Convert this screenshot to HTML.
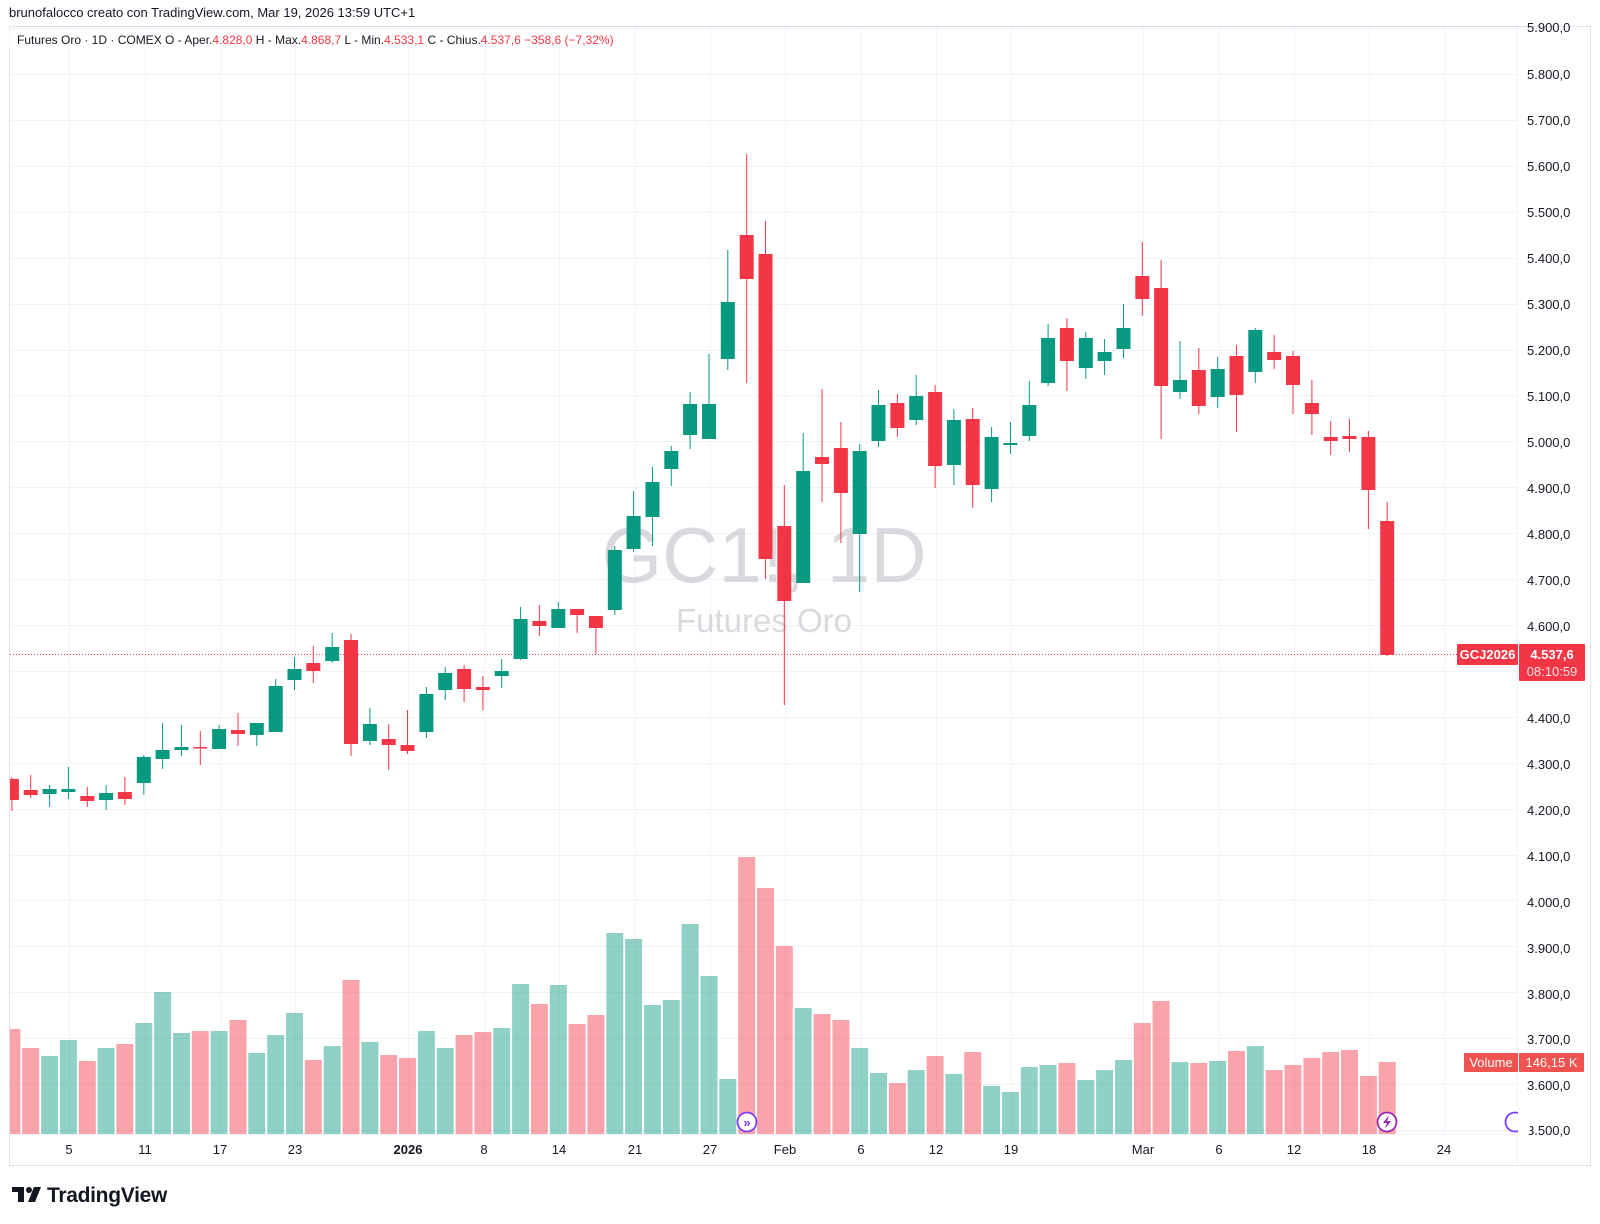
<!DOCTYPE html>
<html><head><meta charset="utf-8"><style>
html,body{margin:0;padding:0;background:#fff;}
body{width:1600px;height:1224px;overflow:hidden;position:relative;font-family:"Liberation Sans",sans-serif;}
</style></head><body>
<svg id="s" width="1600" height="1224" viewBox="0 0 1600 1224" xmlns="http://www.w3.org/2000/svg" style="position:absolute;left:0;top:0">
<rect x="0" y="0" width="1600" height="1224" fill="#fff"/>
<text x="9" y="17" font-size="13" fill="#131722">brunofalocco creato con TradingView.com, Mar 19, 2026 13:59 UTC+1</text>
<rect x="9.5" y="26.5" width="1581" height="1139" fill="none" stroke="#e0e3eb"/>
<g id="grid" stroke="#f0f3fa" stroke-width="1"></g>
<line x1="10" y1="1134.5" x2="1517" y2="1134.5" stroke="#f0f3fa"/>
<line x1="1517.5" y1="27" x2="1517.5" y2="1165" stroke="#f0f3fa"/>
<text x="764" y="582" font-size="78" fill="#b2b5be" fill-opacity="0.5" text-anchor="middle">GC1!, 1D</text>
<text x="764" y="632" font-size="33" fill="#b2b5be" fill-opacity="0.5" text-anchor="middle">Futures Oro</text>
<g id="vol"></g>
<line x1="10" y1="654.5" x2="1517" y2="654.5" stroke="#f23645" stroke-width="1" stroke-dasharray="1,2"/>
<g id="cand"></g>
<g font-size="13" fill="#131722">
<text x="1527" y="32">5.900,0</text>
<text x="1527" y="79">5.800,0</text>
<text x="1527" y="125">5.700,0</text>
<text x="1527" y="171">5.600,0</text>
<text x="1527" y="217">5.500,0</text>
<text x="1527" y="263">5.400,0</text>
<text x="1527" y="309">5.300,0</text>
<text x="1527" y="355">5.200,0</text>
<text x="1527" y="401">5.100,0</text>
<text x="1527" y="447">5.000,0</text>
<text x="1527" y="493">4.900,0</text>
<text x="1527" y="539">4.800,0</text>
<text x="1527" y="585">4.700,0</text>
<text x="1527" y="631">4.600,0</text>
<text x="1527" y="723">4.400,0</text>
<text x="1527" y="769">4.300,0</text>
<text x="1527" y="815">4.200,0</text>
<text x="1527" y="861">4.100,0</text>
<text x="1527" y="907">4.000,0</text>
<text x="1527" y="953">3.900,0</text>
<text x="1527" y="999">3.800,0</text>
<text x="1527" y="1044">3.700,0</text>
<text x="1527" y="1090">3.600,0</text>
<text x="1527" y="1135">3.500,0</text>
</g>
<rect x="1457" y="644" width="61" height="21" fill="#f23645" rx="1"/>
<text x="1487.5" y="659" font-size="13" fill="#fff" text-anchor="middle" font-weight="bold">GCJ2026</text>
<rect x="1519" y="644" width="66" height="37" fill="#f23645" rx="1"/>
<text x="1552" y="659" font-size="13" fill="#fff" text-anchor="middle" font-weight="bold">4.537,6</text>
<text x="1552" y="676" font-size="13" fill="#fff" fill-opacity="0.85" text-anchor="middle">08:10:59</text>
<rect x="1464" y="1053" width="54" height="19" fill="#ef5350" rx="1"/>
<text x="1491" y="1067" font-size="13" fill="#fff" text-anchor="middle">Volume</text>
<rect x="1519" y="1053" width="65" height="19" fill="#ef5350" rx="1"/>
<text x="1551.5" y="1067" font-size="13" fill="#fff" text-anchor="middle">146,15 K</text>
<circle cx="747" cy="1122" r="9.5" fill="#fff" stroke="#7b3ff2" stroke-width="1.8"/>
<text x="747" y="1127" font-size="13" fill="#7b3ff2" text-anchor="middle" font-weight="bold">»</text>
<circle cx="1387" cy="1122" r="9.5" fill="#fff" stroke="#9c27b0" stroke-width="1.8"/>
<path d="M1389 1115 L1383 1123 L1387 1123 L1385 1129 L1391 1121 L1387 1121 Z" fill="#9c27b0"/>
<circle cx="1515" cy="1122" r="9.5" fill="#fff" stroke="#7b3ff2" stroke-width="1.8"/>
<rect x="1518" y="1110" width="12" height="24" fill="#fff"/>
<g font-size="13" fill="#131722" text-anchor="middle">
<text x="69" y="1154">5</text>
<text x="145" y="1154">11</text>
<text x="220" y="1154">17</text>
<text x="295" y="1154">23</text>
<text x="408" y="1154" font-weight="bold">2026</text>
<text x="484" y="1154">8</text>
<text x="559" y="1154">14</text>
<text x="635" y="1154">21</text>
<text x="710" y="1154">27</text>
<text x="785" y="1154">Feb</text>
<text x="861" y="1154">6</text>
<text x="936" y="1154">12</text>
<text x="1011" y="1154">19</text>
<text x="1143" y="1154">Mar</text>
<text x="1219" y="1154">6</text>
<text x="1294" y="1154">12</text>
<text x="1369" y="1154">18</text>
<text x="1444" y="1154">24</text>
</g>
<rect x="0" y="30" width="610" height="18" fill="#fff" fill-opacity="0.7"/>
<text x="17" y="44" font-size="12" fill="#131722">Futures Oro · 1D · COMEX  O - Aper.<tspan fill="#f23645">4.828,0</tspan>  H - Max.<tspan fill="#f23645">4.868,7</tspan>  L - Min.<tspan fill="#f23645">4.533,1</tspan>  C - Chius.<tspan fill="#f23645">4.537,6  −358,6 (−7,32%)</tspan></text>
<g fill="#131722">
<rect x="12" y="1187" width="12" height="5"/>
<rect x="18" y="1187" width="6" height="15"/>
<circle cx="29" cy="1190" r="3"/>
<path d="M34 1187 L41 1187 L35 1202 L28 1202 Z"/>
</g>
<text x="47" y="1202" font-size="21" font-weight="bold" fill="#131722" letter-spacing="-0.3">TradingView</text>
</svg>
<script>
var NS="http://www.w3.org/2000/svg";
function el(p,t,a){var e=document.createElementNS(NS,t);for(var k in a)e.setAttribute(k,a[k]);p.appendChild(e);return e;}
var grid=document.getElementById('grid');
for(var p=3500;p<=5900;p+=100){var y=Math.round(1130-(p-3500)*0.4591)+0.5;el(grid,'line',{x1:10,x2:1517,y1:y,y2:y});}
[69,145,220,295,408,484,559,635,710,785,861,936,1011,1143,1219,1294,1369,1444].forEach(function(x){el(grid,'line',{x1:x+0.5,x2:x+0.5,y1:27,y2:1134});});
// bodyTop, bodyBot, wickTop, wickBot, g/r
var C=[[779,800,777,811,'r'],[790,795,775,798,'r'],[789,794,785,807,'g'],[789,792,767,799,'g'],[796,801,787,807,'r'],[793,800,785,810,'g'],[792,799,777,805,'r'],[757,783,755,795,'g'],[750,759,723,769,'g'],[747,750,725,756,'g'],
[747,748,731,765,'r'],[729,749,725,749,'g'],[730,734,713,746,'r'],[723,735,723,746,'g'],[686,732,679,732,'g'],[669,680,657,690,'g'],[663,671,646,683,'r'],[647,661,633,663,'g'],[640,744,634,756,'r'],[724,741,708,745,'g'],
[739,745,724,770,'r'],[745,751,710,754,'r'],[694,732,687,738,'g'],[673,690,667,700,'g'],[669,689,665,702,'r'],[687,690,676,710,'r'],[671,676,659,688,'g'],[619,659,607,660,'g'],[621,626,605,636,'r'],[609,628,602,628,'g'],
[609,615,609,633,'r'],[616,628,616,654,'r'],[550,610,546,615,'g'],[516,549,491,552,'g'],[482,517,467,546,'g'],[451,469,446,486,'g'],[404,435,392,449,'g'],[404,439,354,439,'g'],[302,359,250,370,'g'],[235,279,154,383,'r'],
[254,559,221,579,'r'],[526,601,485,705,'r'],[471,583,433,583,'g'],[457,464,389,502,'r'],[448,493,422,543,'r'],[451,534,444,592,'g'],[405,441,390,447,'g'],[403,428,394,437,'r'],[396,420,375,425,'g'],[392,466,385,488,'r'],
[420,465,409,485,'g'],[419,485,408,508,'r'],[437,489,427,502,'g'],[443,445,422,454,'g'],[405,436,381,441,'g'],[338,383,324,386,'g'],[328,361,318,391,'r'],[338,368,332,379,'g'],[352,361,339,375,'g'],[328,349,304,358,'g'],
[276,299,242,316,'r'],[288,386,260,439,'r'],[380,392,341,399,'g'],[370,406,348,414,'r'],[369,397,357,408,'g'],[356,395,345,432,'r'],[330,372,328,383,'g'],[352,360,335,369,'r'],[356,385,351,414,'r'],[403,414,380,435,'r'],
[437,441,421,455,'r'],[436,439,419,452,'r'],[437,490,431,529,'r'],[521,655,502,656,'r']];
var V=[1029,1048,1056,1040,1061,1048,1044,1023,992,1033,1031,1031,1020,1053,1035,1013,1060,1046,980,1042,1055,1058,1031,1048,1035,1032,1028,984,1004,985,1024,1015,933,939,1005,1000,924,976,1079,857,888,946,1008,1014,1020,1048,1073,1083,1070,1056,1074,1052,1086,1092,1067,1065,1063,1080,1070,1060,1023,1001,1062,1063,1061,1051,1046,1070,1065,1058,1052,1050,1076,1062];
var vol=document.getElementById('vol'),cand=document.getElementById('cand');
var cl=document.createElementNS(NS,'clipPath');cl.id='cp';el(cl,'rect',{x:10,y:27,width:1507,height:1107});document.getElementById('s').appendChild(cl);
vol.setAttribute('clip-path','url(#cp)');cand.setAttribute('clip-path','url(#cp)');
for(var i=0;i<C.length;i++){
 var x=11.9+18.84*i,c=C[i],col=c[4]=='g'?'#089981':'#f23645',vc=c[4]=='g'?'rgba(8,153,129,0.45)':'rgba(242,54,69,0.45)';
 el(vol,'rect',{x:(x-8.5).toFixed(1),y:V[i],width:17,height:1134-V[i],fill:vc});
 el(cand,'rect',{x:(x-0.5).toFixed(1),y:c[2],width:1,height:c[3]-c[2],fill:col});
 var h=Math.max(1.5,c[1]-c[0]);
 el(cand,'rect',{x:(x-7).toFixed(1),y:c[0],width:14,height:h,fill:col});
}
</script>
</body></html>
